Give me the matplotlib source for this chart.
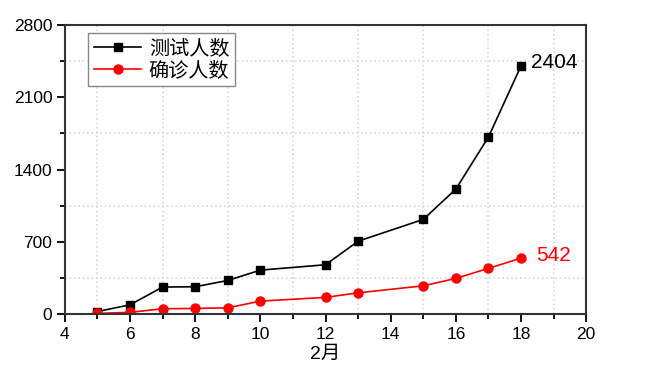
import numpy as np
import matplotlib
matplotlib.use('Agg')
import matplotlib.pyplot as plt
from matplotlib.ticker import MultipleLocator

plt.rcParams['font.family'] = ['Liberation Sans', 'Noto Sans CJK SC', 'DejaVu Sans']

# 2月日期与人数
days = [5, 6, 7, 8, 9, 10, 12, 13, 15, 16, 17, 18]
tested = [25, 90, 262, 265, 326, 426, 478, 706, 917, 1211, 1715, 2404]
confirmed = [7, 17, 52, 55, 61, 126, 162, 206, 274, 346, 443, 542]

fig = plt.figure(figsize=(6.55, 3.78), dpi=100)
ax = fig.add_axes([0.099, 0.169, 0.796, 0.765])

ax.plot(days, tested, color='black', marker='s', markersize=6, linewidth=1.2, label='测试人数')
ax.plot(days, confirmed, color='red', marker='o', markersize=6.5, linewidth=1.2, label='确诊人数')

ax.text(days[-1] + 0.3, tested[-1] + 30, str(tested[-1]), fontsize=15, color='black', va='center')
ax.text(days[-1] + 0.45, confirmed[-1] + 25, str(confirmed[-1]), fontsize=15, color='red', va='center')

ax.set_xlim(4, 20)
ax.set_ylim(0, 2800)
ax.xaxis.set_major_locator(MultipleLocator(2))
ax.xaxis.set_minor_locator(MultipleLocator(1))
ax.yaxis.set_major_locator(MultipleLocator(700))
ax.yaxis.set_minor_locator(MultipleLocator(350))
ax.tick_params(which='both', direction='out', top=False, right=False, labelsize=12.5, width=1.3)
ax.tick_params(which='major', length=6, pad=3)
ax.tick_params(which='minor', length=3.5)
ax.grid(which='minor', linestyle=':', color='#d8d8d8', linewidth=1.2)
for s in ax.spines.values():
    s.set_linewidth(1.5)
    s.set_color('#333333')

ax.set_xlabel('2月', fontsize=14, labelpad=3)

leg = ax.legend(loc='upper left', bbox_to_anchor=(0.045, 0.972), fontsize=14.5, fancybox=False,
                edgecolor='#888888', framealpha=1, handlelength=2.3, borderpad=0.3,
                labelspacing=0.15, handletextpad=0.4, borderaxespad=0)
leg.get_frame().set_linewidth(1)

fig.savefig('out.png', dpi=100)
